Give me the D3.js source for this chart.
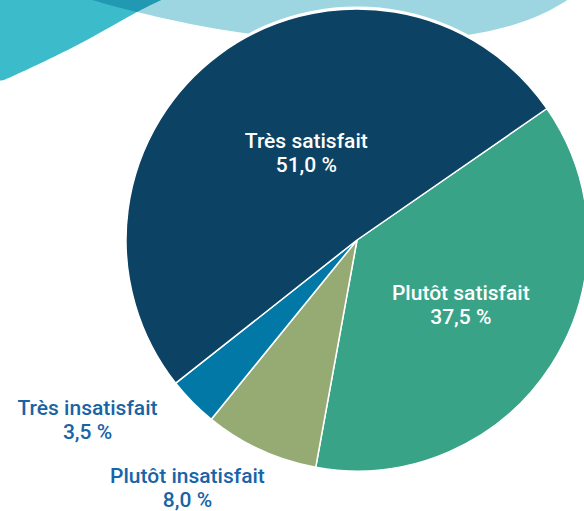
<!DOCTYPE html>
<html>
<head>
<meta charset="utf-8">
<script src="https://cdn.jsdelivr.net/npm/d3@7"></script>
<style>
  html, body { margin: 0; padding: 0; background: #fff; }
  svg { display: block; font-family: Roboto, 'Noto Sans', sans-serif; }
  .label { font-size: 21px; font-weight: 500; text-anchor: middle; }
</style>
</head>
<body>
<div id="pie_chart"></div>
<script>
// Data
const categories = ['Plutôt satisfait', 'Plutôt insatisfait', 'Très insatisfait', 'Très satisfait']
const values = [37.5, 8.0, 3.5, 51.0]
const colors = ['#38a387', '#96ab74', '#0278a7', '#0c4263']

// Label placement: inside labels sit on a fraction of the radius,
// outside ones hang off the rim with a small shift
const labelPlacement = {
  'Plutôt satisfait': { inside: true, k: 0.55, dx: -3, dy: -9 },
  'Plutôt insatisfait': { inside: false, k: 1, dx: -73, dy: 33 },
  'Très insatisfait': { inside: false, k: 1, dx: -105, dy: 13 },
  'Très satisfait': { inside: true, k: 0.42, dx: 7, dy: -14 }
}

const width = 584
const height = 511
const cx = 357
const cy = 240
const radius = 231
const startDeg = 55.3

const svg = d3.select('#pie_chart')
  .append('svg')
  .attr('width', width)
  .attr('height', height)

// Background waves in the top corner
const waveLine = d3.line().curve(d3.curveBasis)
const lightWave = [[80, -5], [90, 0], [150, 16], [250, 36], [360, 44], [470, 38], [540, 18], [575, -5]]
const tealWave = [[-5, -5], [-5, 84], [0, 82], [80, 45], [135, 12], [172, -5]]

svg.append('path')
  .attr('d', waveLine(lightWave) + 'Z')
  .attr('fill', '#9dd6e0')

svg.append('path')
  .attr('d', waveLine(tealWave) + 'Z')
  .attr('fill', '#3cbbcb')

// Overlap of the two waves
svg.append('clipPath')
  .attr('id', 'teal_clip')
  .append('path')
  .attr('d', waveLine(tealWave) + 'Z')

svg.append('path')
  .attr('d', waveLine(lightWave) + 'Z')
  .attr('fill', '#2199b3')
  .attr('clip-path', 'url(#teal_clip)')

//===========================================================================

const g = svg.append('g')
  .attr('transform', `translate(${cx}, ${cy})`)

const pie = d3.pie()
  .sort(null)
  .startAngle(startDeg * Math.PI / 180)
  .endAngle(startDeg * Math.PI / 180 + 2 * Math.PI)
  .value((d, i) => values[i])

const arcs = pie(categories)

const arc = d3.arc().innerRadius(0).outerRadius(radius)

// White rim behind the pie
g.append('circle')
  .attr('r', radius + 2.5)
  .attr('fill', '#fff')

g.selectAll('path.slice')
  .data(arcs)
  .enter()
  .append('path')
  .attr('class', 'slice')
  .attr('d', arc)
  .attr('fill', (d, i) => colors[i])
  .attr('stroke', '#fff')
  .attr('stroke-width', 1.5)
  .attr('stroke-linejoin', 'round')

// Labels
const labels = g.selectAll('text.label')
  .data(arcs)
  .enter()
  .append('text')
  .attr('class', 'label')
  .attr('fill', (d) => labelPlacement[d.data].inside ? '#ffffff' : '#1764a6')
  .attr('transform', (d) => {
    const p = labelPlacement[d.data]
    const r = radius * p.k
    const c = d3.arc().innerRadius(r).outerRadius(r).centroid(d)
    return `translate(${c[0] + p.dx}, ${c[1] + p.dy})`
  })

labels.append('tspan')
  .attr('x', 0)
  .attr('dy', 0)
  .text((d) => d.data)

labels.append('tspan')
  .attr('x', 0)
  .attr('dy', '1.15em')
  .text((d) => d3.format('.1f')(d.value).replace('.', ',') + ' %')
</script>
</body>
</html>
